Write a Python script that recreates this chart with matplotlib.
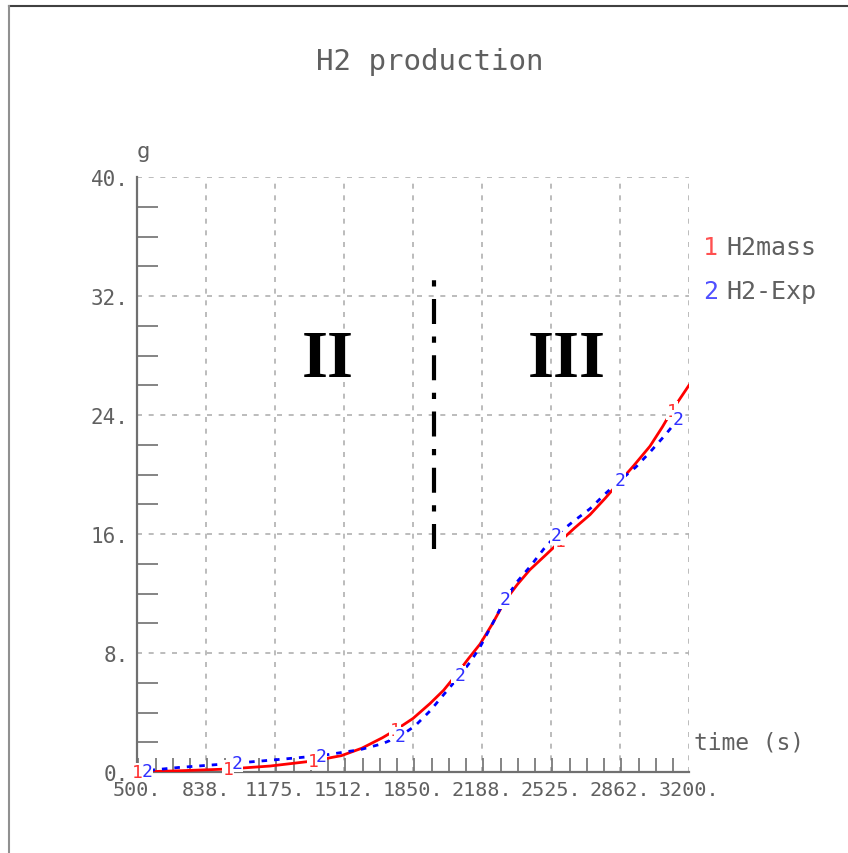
import numpy as np
import matplotlib.pyplot as plt
from matplotlib.lines import Line2D
from matplotlib.ticker import MultipleLocator

# H2 mass, simulation (1) and experiment (2)
t_sim = [500, 700, 945, 1150, 1361, 1500, 1600, 1700, 1762, 1850, 1933, 2000,
         2065, 2120, 2178, 2240, 2300, 2360, 2422, 2500, 2569, 2640, 2716,
         2790, 2853, 2930, 3009, 3070, 3117, 3200]
h2_sim = [0.0, 0.08, 0.2, 0.4, 0.74, 1.1, 1.6, 2.3, 2.8, 3.6, 4.6, 5.5,
          6.6, 7.6, 8.6, 10.0, 11.5, 12.6, 13.6, 14.6, 15.5, 16.4, 17.3,
          18.4, 19.4, 20.6, 21.9, 23.2, 24.3, 26.0]

t_exp = [500, 550, 700, 989, 1200, 1400, 1591, 1700, 1786, 1860, 1933, 2000,
         2080, 2130, 2178, 2240, 2300, 2360, 2422, 2490, 2549, 2630, 2716,
         2790, 2862, 2940, 3009, 3080, 3146]
h2_exp = [0.05, 0.1, 0.3, 0.6, 0.85, 1.1, 1.5, 1.9, 2.4, 3.1, 4.1, 5.2,
          6.5, 7.4, 8.4, 10.0, 11.6, 12.8, 13.8, 15.0, 15.9, 16.8, 17.7,
          18.7, 19.6, 20.5, 21.5, 22.6, 23.7]

# which points carry the curve number
sim_marks = [0, 2, 4, 8, 12, 20, 24, 28]
exp_marks = [1, 3, 5, 8, 12, 16, 20, 24, 28]

xticks = [500, 837.5, 1175, 1512.5, 1850, 2187.5, 2525, 2862.5, 3200]
xtick_labels = ['500.', '838.', '1175.', '1512.', '1850.', '2188.', '2525.',
                '2862.', '3200.']
yticks = [0, 8, 16, 24, 32, 40]
ytick_labels = ['0.', '8.', '16.', '24.', '32.', '40.']

# phase separator
t_sep = 1953
sep_range = (15.0, 33.8)

mono = 'DejaVu Sans Mono'
grey = '#606060'

fig = plt.figure(figsize=(8.48, 8.54), dpi=100)
ax = fig.add_axes([137 / 848, 1 - 773 / 854, 552 / 848, 595 / 854])

ax.set_xlim(500, 3200)
ax.set_ylim(0, 40)
ax.grid(True, color='#b0b0b0', linestyle=(0, (3, 4)), linewidth=1.2)
ax.set_axisbelow(True)

for side in ['top', 'right']:
    ax.spines[side].set_visible(False)
for side in ['left', 'bottom']:
    ax.spines[side].set_color('#707070')
    ax.spines[side].set_linewidth(1.6)

ax.set_xticks(xticks)
ax.set_xticklabels(xtick_labels, fontfamily=mono, fontsize=14.5, color=grey)
ax.set_yticks(yticks)
ax.set_yticklabels(ytick_labels, fontfamily=mono, fontsize=15, color=grey)
ax.xaxis.set_minor_locator(MultipleLocator(337.5 / 4))
ax.yaxis.set_minor_locator(MultipleLocator(2))
ax.tick_params(which='major', length=0, pad=6)
ax.tick_params(axis='x', which='minor', direction='in', length=10,
               color='#707070', width=1.2)
ax.tick_params(axis='y', which='minor', direction='in', length=15,
               color='#707070', width=1.2)

# curves
ax.plot(t_sim, h2_sim, color='red', linewidth=2, zorder=3)
ax.plot(t_exp, h2_exp, color='blue', linewidth=2, linestyle=(0, (2, 2.5)),
        zorder=3)
for i in sim_marks:
    ax.text(t_sim[i], h2_sim[i], '1', color='#ff3030', fontfamily=mono,
            fontsize=13, ha='center', va='center', zorder=4,
            bbox=dict(facecolor='white', edgecolor='none', pad=0.1))
for i in exp_marks:
    ax.text(t_exp[i], h2_exp[i], '2', color='#3030ff', fontfamily=mono,
            fontsize=13, ha='center', va='center', zorder=5,
            bbox=dict(facecolor='white', edgecolor='none', pad=0.1))

# phase separator and labels
ax.plot([t_sep, t_sep], sep_range, color='black', linewidth=3,
        linestyle=(0, (6, 3, 1.5, 3)), zorder=3)
ax.text(1434, 27.7, 'II', fontfamily='Liberation Serif', fontweight='bold',
        fontsize=48, ha='center', va='center')
ax.text(2603, 27.7, 'III', fontfamily='Liberation Serif', fontweight='bold',
        fontsize=48, ha='center', va='center')

# titles
fig.text(430 / 848, 1 - 62 / 854, 'H2 production', fontfamily=mono,
         fontsize=21, color=grey, ha='center', va='center')
fig.text(143 / 848, 1 - 152 / 854, 'g', fontfamily=mono, fontsize=16,
         color=grey, ha='center', va='center')
fig.text(694 / 848, 1 - 743 / 854, 'time (s)', fontfamily=mono, fontsize=16.5,
         color=grey, ha='left', va='center')

# legend entries
fig.text(703 / 848, 1 - 248 / 854, '1', fontfamily=mono, fontsize=18,
         color='#ff5050', ha='left', va='center')
fig.text(726 / 848, 1 - 248 / 854, 'H2mass', fontfamily=mono, fontsize=18,
         color=grey, ha='left', va='center')
fig.text(703 / 848, 1 - 292 / 854, '2', fontfamily=mono, fontsize=18,
         color='#5050ff', ha='left', va='center')
fig.text(726 / 848, 1 - 292 / 854, 'H2-Exp', fontfamily=mono, fontsize=18,
         color=grey, ha='left', va='center')

# frame lines along the top and left edges
fig.add_artist(Line2D([9 / 848, 1], [1 - 7 / 854, 1 - 7 / 854],
                      color='#404040', linewidth=1.5))
fig.add_artist(Line2D([9 / 848, 9 / 848], [0, 1 - 7 / 854],
                      color='#909090', linewidth=1.5))

fig.savefig('out.png', dpi=100)
